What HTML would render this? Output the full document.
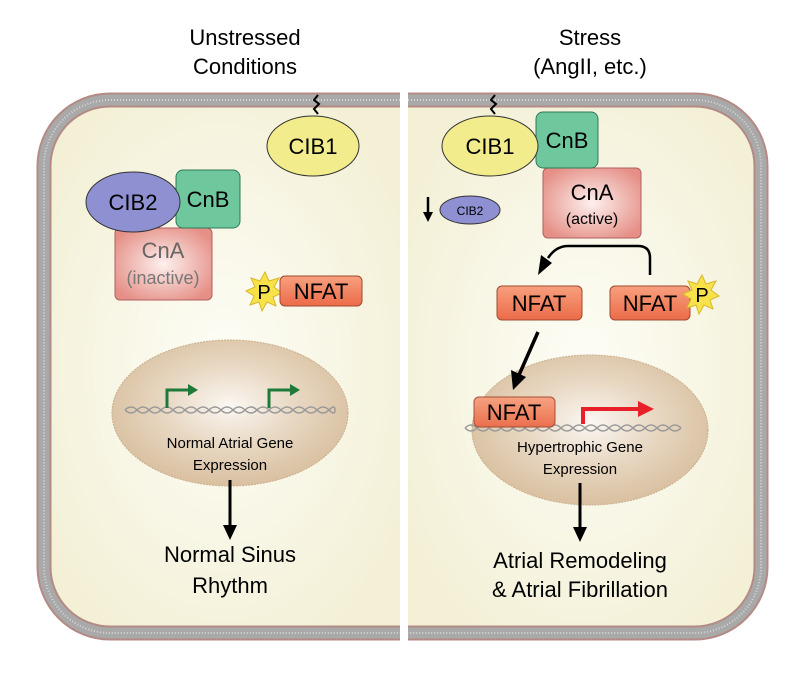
<!DOCTYPE html>
<html><head><style>
body{margin:0;background:#fff;}
svg text{font-family:"Liberation Sans",Arial,sans-serif;}
</style></head><body>
<svg width="809" height="679" viewBox="0 0 809 679" xmlns="http://www.w3.org/2000/svg">
<defs>
<radialGradient id="cyt" cx="50%" cy="50%" r="60%"><stop offset="0" stop-color="#fdfdf6"/><stop offset="1" stop-color="#f3f0d6"/></radialGradient>
<radialGradient id="nuc" cx="50%" cy="45%" r="55%"><stop offset="0" stop-color="#fbf7f2"/><stop offset="0.5" stop-color="#e8d8c3"/><stop offset="1" stop-color="#d9c0a0"/></radialGradient>
<radialGradient id="cna" cx="50%" cy="50%" r="60%"><stop offset="0" stop-color="#fdf0ee"/><stop offset="1" stop-color="#e58f86"/></radialGradient>
<linearGradient id="nf" x1="0" y1="0" x2="0" y2="1"><stop offset="0" stop-color="#f7a07e"/><stop offset="1" stop-color="#ec6b48"/></linearGradient>
</defs>
<!-- Left cell -->
<path d="M400,100 H110 A66,66 0 0 0 44,166 V567 A66,66 0 0 0 110,633 H400 Z" fill="url(#cyt)" stroke="none"/>
<path d="M400,100 H110 A66,66 0 0 0 44,166 V567 A66,66 0 0 0 110,633 H400" fill="none" stroke="#b48a84" stroke-width="15"/>
<path d="M400,100 H110 A66,66 0 0 0 44,166 V567 A66,66 0 0 0 110,633 H400" fill="none" stroke="#a9a9a9" stroke-width="11"/>
<path d="M400,100 H110 A66,66 0 0 0 44,166 V567 A66,66 0 0 0 110,633 H400" fill="none" stroke="#d6d6d6" stroke-width="2" stroke-dasharray="1 2"/>
<!-- Right cell -->
<path d="M408,100 H695 A66,66 0 0 1 761,166 V567 A66,66 0 0 1 695,633 H408 Z" fill="url(#cyt)"/>
<path d="M408,100 H695 A66,66 0 0 1 761,166 V567 A66,66 0 0 1 695,633 H408" fill="none" stroke="#b48a84" stroke-width="15"/>
<path d="M408,100 H695 A66,66 0 0 1 761,166 V567 A66,66 0 0 1 695,633 H408" fill="none" stroke="#a9a9a9" stroke-width="11"/>
<path d="M408,100 H695 A66,66 0 0 1 761,166 V567 A66,66 0 0 1 695,633 H408" fill="none" stroke="#d6d6d6" stroke-width="2" stroke-dasharray="1 2"/>

<!-- Titles -->
<text x="245" y="45" font-size="22" text-anchor="middle">Unstressed</text>
<text x="245" y="74" font-size="22" text-anchor="middle">Conditions</text>
<text x="590" y="45" font-size="22" text-anchor="middle">Stress</text>
<text x="590" y="74" font-size="22" text-anchor="middle">(AngII, etc.)</text>

<!-- Left contents -->
<path d="M318,95 l-4,5 l5,4 l-5,5 l4,5" fill="none" stroke="#000" stroke-width="2"/>
<ellipse cx="313" cy="146" rx="46" ry="30" fill="#f2ec8c" stroke="#333" stroke-width="1"/>
<text x="313" y="154" font-size="22" text-anchor="middle">CIB1</text>
<rect x="115" y="228" width="97" height="72" rx="5" fill="url(#cna)" stroke="#b06060"/>
<text x="163" y="258" font-size="22" text-anchor="middle" fill="#666">CnA</text>
<text x="163" y="284" font-size="18" text-anchor="middle" fill="#777">(inactive)</text>
<rect x="176" y="170" width="64" height="58" rx="7" fill="#6fc79e" stroke="#2f7a55"/>
<text x="208" y="207" font-size="22" text-anchor="middle">CnB</text>
<ellipse cx="133" cy="202" rx="47" ry="30" fill="#8f90d2" stroke="#333"/>
<text x="133" y="210" font-size="22" text-anchor="middle">CIB2</text>
<polygon points="265,272 269,281 279,278 274,287 282,293 273,297 276,306 267,302 262,311 259,302 250,305 254,296 246,291 255,287 251,278 260,281" fill="#f8e24a" stroke="#d8b82a"/>
<rect x="280" y="276" width="82" height="30" rx="5" fill="url(#nf)" stroke="#a04a30"/>
<text x="321" y="299" font-size="22" text-anchor="middle">NFAT</text>
<text x="264" y="299" font-size="20" text-anchor="middle">P</text>
<ellipse cx="230" cy="413" rx="118" ry="73" fill="url(#nuc)" stroke="#c9ae8c" stroke-dasharray="2 1"/>
<path d="M125,410 q6,-6 12,0 t12,0 t12,0 t12,0 t12,0 t12,0 t12,0 t12,0 t12,0 t12,0 t12,0 t12,0 t12,0 t12,0 t12,0 t12,0 t12,0 t6,0" fill="none" stroke="#999" stroke-width="1.5"/>
<path d="M125,410 q6,6 12,0 t12,0 t12,0 t12,0 t12,0 t12,0 t12,0 t12,0 t12,0 t12,0 t12,0 t12,0 t12,0 t12,0 t12,0 t12,0 t12,0 t6,0" fill="none" stroke="#999" stroke-width="1.5"/>
<path d="M167,408 V390 H188" fill="none" stroke="#1f7a3a" stroke-width="3"/>
<polygon points="188,384 198,390 188,396" fill="#1f7a3a"/>
<path d="M269,408 V390 H290" fill="none" stroke="#1f7a3a" stroke-width="3"/>
<polygon points="290,384 300,390 290,396" fill="#1f7a3a"/>
<text x="230" y="448" font-size="15" text-anchor="middle">Normal Atrial Gene</text>
<text x="230" y="470" font-size="15" text-anchor="middle">Expression</text>
<line x1="230" y1="480" x2="230" y2="528" stroke="#000" stroke-width="3"/>
<polygon points="223,525 237,525 230,540" fill="#000"/>
<text x="230" y="562" font-size="22" text-anchor="middle">Normal Sinus</text>
<text x="230" y="593" font-size="22" text-anchor="middle">Rhythm</text>

<!-- Right contents -->
<path d="M495,95 l-4,5 l5,4 l-5,5 l4,5" fill="none" stroke="#000" stroke-width="2"/>
<rect x="543" y="168" width="98" height="70" rx="5" fill="url(#cna)" stroke="#b06060"/>
<text x="592" y="200" font-size="22" text-anchor="middle">CnA</text>
<text x="592" y="224" font-size="16" text-anchor="middle">(active)</text>
<rect x="536" y="112" width="62" height="56" rx="7" fill="#6fc79e" stroke="#2f7a55"/>
<text x="567" y="148" font-size="22" text-anchor="middle">CnB</text>
<ellipse cx="490" cy="146" rx="48" ry="30" fill="#f2ec8c" stroke="#333"/>
<text x="490" y="154" font-size="22" text-anchor="middle">CIB1</text>
<line x1="428" y1="197" x2="428" y2="214" stroke="#000" stroke-width="2.5"/>
<polygon points="423,212 433,212 428,222" fill="#000"/>
<ellipse cx="470" cy="210" rx="30" ry="14" fill="#8f90d2" stroke="#333"/>
<text x="470" y="215" font-size="12" text-anchor="middle">CIB2</text>
<path d="M650,275 V258 Q650,246 638,246 H568 Q556,246 548,258" fill="none" stroke="#000" stroke-width="2.5"/>
<polygon points="541,255 552,263 538,275" fill="#000"/>
<rect x="497" y="286" width="85" height="34" rx="5" fill="url(#nf)" stroke="#a04a30"/>
<text x="539" y="311" font-size="22" text-anchor="middle">NFAT</text>
<rect x="610" y="286" width="80" height="34" rx="5" fill="url(#nf)" stroke="#a04a30"/>
<text x="650" y="311" font-size="22" text-anchor="middle">NFAT</text>
<polygon points="702,275 706,284 716,281 711,290 719,296 710,300 713,309 704,305 699,314 696,305 687,308 691,299 683,294 692,290 688,281 697,284" fill="#f8e24a" stroke="#d8b82a"/>
<text x="702" y="302" font-size="20" text-anchor="middle">P</text>
<ellipse cx="590" cy="430" rx="118" ry="75" fill="url(#nuc)" stroke="#c9ae8c" stroke-dasharray="2 1"/>
<line x1="538" y1="332" x2="519" y2="375" stroke="#000" stroke-width="3.5"/>
<polygon points="511,370 526,377 513,390" fill="#000"/>
<path d="M465,428 q6,-6 12,0 t12,0 t12,0 t12,0 t12,0 t12,0 t12,0 t12,0 t12,0 t12,0 t12,0 t12,0 t12,0 t12,0 t12,0 t12,0 t12,0 t12,0" fill="none" stroke="#999" stroke-width="1.5"/>
<path d="M465,428 q6,6 12,0 t12,0 t12,0 t12,0 t12,0 t12,0 t12,0 t12,0 t12,0 t12,0 t12,0 t12,0 t12,0 t12,0 t12,0 t12,0 t12,0 t12,0" fill="none" stroke="#999" stroke-width="1.5"/>
<rect x="474" y="397" width="81" height="30" rx="5" fill="url(#nf)" stroke="#a04a30" opacity="0.95"/>
<text x="514" y="420" font-size="22" text-anchor="middle">NFAT</text>
<path d="M583,424 V409 H640" fill="none" stroke="#e8202a" stroke-width="4"/>
<polygon points="638,401 654,409 638,417" fill="#e8202a"/>
<text x="580" y="452" font-size="15" text-anchor="middle">Hypertrophic Gene</text>
<text x="580" y="474" font-size="15" text-anchor="middle">Expression</text>
<line x1="580" y1="483" x2="580" y2="530" stroke="#000" stroke-width="3"/>
<polygon points="573,527 587,527 580,542" fill="#000"/>
<text x="580" y="568" font-size="22" text-anchor="middle">Atrial Remodeling</text>
<text x="580" y="597" font-size="22" text-anchor="middle">&amp; Atrial Fibrillation</text>
</svg>
</body></html>
